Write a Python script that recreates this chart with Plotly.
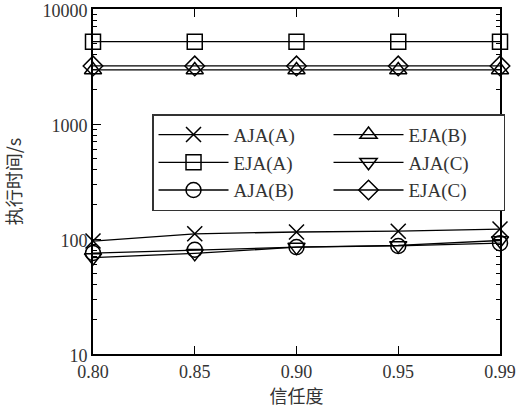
import plotly.graph_objects as go

categories = ["0.80", "0.85", "0.90", "0.95", "0.99"]
aja_a = [96, 111, 115, 117, 122]
eja_a = [5200, 5200, 5200, 5200, 5200]
aja_b = [75.5, 80.7, 85, 87, 92]
eja_b = [2950, 2950, 2950, 2950, 2950]
aja_c = [69, 75, 85, 88, 97]
eja_c = [3200, 3200, 3200, 3200, 3200]

y_ticks = [10, 100, 1000, 10000]
y_ticktext = ["10", "100", "1000", "10000"]
minor_vals = [m * d for d in (10, 100, 1000) for m in range(2, 10)]

# legend order (row-wise, two per row): AJA(A), EJA(B), EJA(A), AJA(C), AJA(B), EJA(C)
series = [
    ("AJA(A)", aja_a, "x-thin-open"),
    ("EJA(B)", eja_b, "triangle-up-open"),
    ("EJA(A)", eja_a, "square-open"),
    ("AJA(C)", aja_c, "triangle-down-open"),
    ("AJA(B)", aja_b, "circle-open"),
    ("EJA(C)", eja_c, "diamond-open"),
]

fig = go.Figure()
for name, vals, sym in series:
    fig.add_trace(go.Scatter(
        x=categories, y=vals, name=name, mode="lines+markers",
        line=dict(color="#000000", width=1.3),
        marker=dict(symbol=sym, size=15, color="#000000",
                    line=dict(color="#000000", width=1.5)),
        cliponaxis=False,
    ))

serif = "Liberation Serif, DejaVu Serif, serif"
cjk = "Noto Sans CJK SC, sans-serif"

fig.update_layout(
    width=531, height=410,
    margin=dict(l=93, r=31, t=9, b=56, autoexpand=False),
    paper_bgcolor="white", plot_bgcolor="white",
    font=dict(family=serif, size=18, color="#333333"),
    showlegend=True,
    legend=dict(
        orientation="h", x=0.145, y=0.695, xanchor="left", yanchor="top",
        entrywidth=90, entrywidthmode="pixels", itemwidth=70,
        bgcolor="white", bordercolor="#333333", borderwidth=1.5,
        font=dict(family=serif, size=19, color="#333333"),
        tracegroupgap=0,
    ),
    xaxis=dict(
        type="category", range=[0, 4], automargin=False,
        showline=True, linecolor="#000000", linewidth=2, mirror="ticks",
        ticks="inside", ticklen=8, tickwidth=1.2, tickcolor="#000000",
        showgrid=False, zeroline=False, ticklabeloverflow="allow",
        tickfont=dict(family=serif, size=18, color="#333333"),
        title=dict(text="信任度", font=dict(family=cjk, size=18, color="#333333"), standoff=0),
    ),
    yaxis=dict(
        type="log", range=[1, 4], automargin=False,
        tickvals=y_ticks, ticktext=y_ticktext,
        showline=True, linecolor="#000000", linewidth=2, mirror="ticks",
        ticks="inside", ticklen=8, tickwidth=1.2, tickcolor="#000000",
        minor=dict(tickvals=minor_vals, ticks="inside", ticklen=4, tickwidth=1, tickcolor="#000000"),
        showgrid=False, zeroline=False, ticklabeloverflow="allow",
        ticklabelshift=2,
        tickfont=dict(family=serif, size=18, color="#333333"),
        title=dict(text="执行时间/s", font=dict(family=cjk, size=18, color="#333333"), standoff=22),
    ),
)

fig.write_html("out.html")
